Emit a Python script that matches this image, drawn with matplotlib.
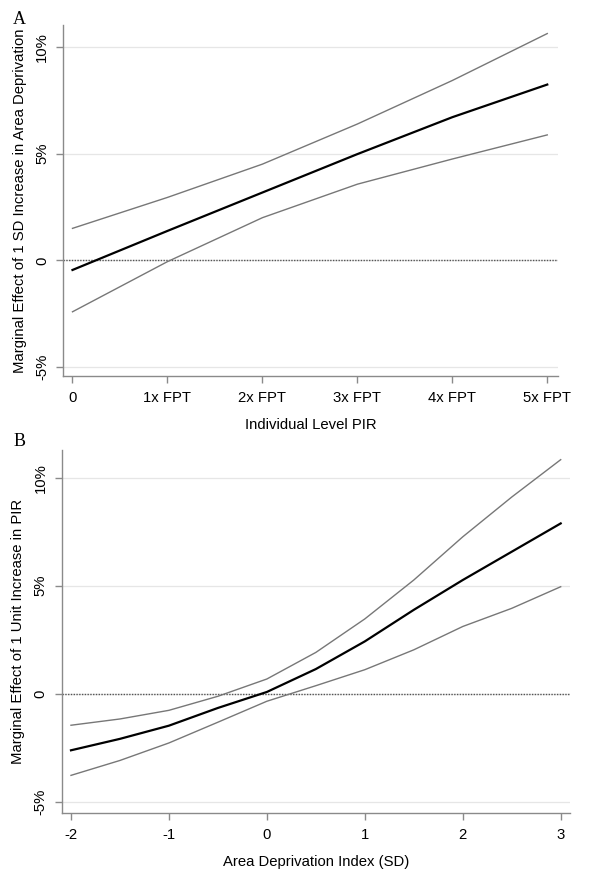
import numpy as np
import matplotlib
matplotlib.use("Agg")
import matplotlib.pyplot as plt

plt.rcParams["font.family"] = ["Liberation Sans", "DejaVu Sans"]

# Panel A: marginal effect of area deprivation across individual PIR
pir_x = [0, 1, 2, 3, 4, 5]
pir_labels = ["0", "1x FPT", "2x FPT", "3x FPT", "4x FPT", "5x FPT"]
a_est = [-0.45, 1.38, 3.18, 4.98, 6.71, 8.24]
a_upper = [1.50, 2.95, 4.51, 6.39, 8.43, 10.63]
a_lower = [-2.41, -0.06, 2.00, 3.57, 4.75, 5.88]

# Panel B: marginal effect of PIR across area deprivation
adi_x = [-2, -1.5, -1, -0.5, 0, 0.5, 1, 1.5, 2, 2.5, 3]
b_est = [-2.62, -2.09, -1.48, -0.66, 0.08, 1.14, 2.42, 3.88, 5.26, 6.57, 7.88]
b_upper = [-1.46, -1.17, -0.77, -0.12, 0.68, 1.91, 3.46, 5.26, 7.26, 9.10, 10.83]
b_lower = [-3.78, -3.09, -2.28, -1.32, -0.35, 0.37, 1.11, 2.03, 3.11, 3.95, 4.95]

y_ticks = [-5, 0, 5, 10]
y_labels = ["-5%", "0", "5%", "10%"]

SPINE = "#8a8a8a"
CI = "#777777"
FS = 10.7

fig = plt.figure(figsize=(6, 8.72), dpi=100)
ax_a = fig.add_axes([0.105, 0.5688, 0.8245, 0.4025])
ax_b = fig.add_axes([0.1028, 0.0677, 0.8472, 0.4163])


def style(ax, xlabel, ylabel):
    for s in ["top", "right"]:
        ax.spines[s].set_visible(False)
    for s in ["left", "bottom"]:
        ax.spines[s].set_color(SPINE)
        ax.spines[s].set_linewidth(1.0)
    ax.set_yticks(y_ticks)
    ax.set_yticklabels(y_labels, rotation=90, va="center", fontsize=FS)
    for t in y_ticks:
        ax.axhline(t, color="#e6e6e6", lw=0.9, zorder=0)
    ax.axhline(0, color="#555555", lw=1.0, ls=(0, (1, 1)), zorder=1)
    ax.tick_params(axis="both", colors=SPINE, labelcolor="black", length=5,
                   width=1.0, labelsize=FS)
    ax.tick_params(axis="x", pad=6)
    ax.tick_params(axis="y", pad=5)
    ax.set_xlabel(xlabel, fontsize=FS, labelpad=9)
    ax.set_ylabel(ylabel, fontsize=FS, labelpad=6)


ax_a.plot(pir_x, a_upper, color=CI, lw=1.0)
ax_a.plot(pir_x, a_lower, color=CI, lw=1.0)
ax_a.plot(pir_x, a_est, color="black", lw=1.6)
ax_a.set_xlim(-0.1, 5.11)
ax_a.set_ylim(-5.42, 11.03)
ax_a.set_xticks(pir_x)
ax_a.set_xticklabels(pir_labels)
style(ax_a, "Individual Level PIR", "Marginal Effect of 1 SD Increase in Area Deprivation")

ax_b.plot(adi_x, b_upper, color=CI, lw=1.0)
ax_b.plot(adi_x, b_lower, color=CI, lw=1.0)
ax_b.plot(adi_x, b_est, color="black", lw=1.6)
ax_b.set_xlim(-2.095, 3.095)
ax_b.set_ylim(-5.52, 11.28)
ax_b.set_xticks([-2, -1, 0, 1, 2, 3])
ax_b.set_xticklabels(["-2", "-1", "0", "1", "2", "3"])
style(ax_b, "Area Deprivation Index (SD)", "Marginal Effect of 1 Unit Increase in PIR")

fig.text(0.022, 0.978, "A", family="Liberation Serif", fontsize=13, va="center")
fig.text(0.022, 0.494, "B", family="Liberation Serif", fontsize=13, va="center")

fig.savefig("out.png", dpi=100)
